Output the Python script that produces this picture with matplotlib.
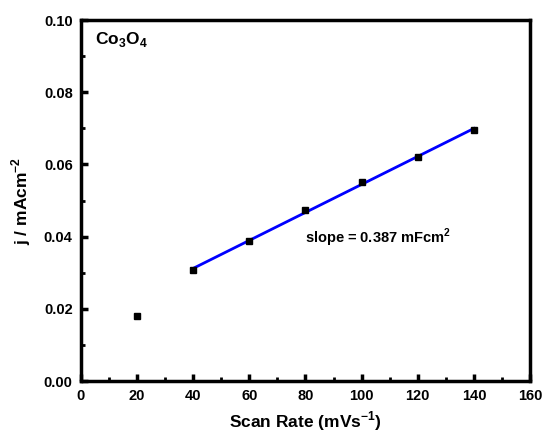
import matplotlib.pyplot as plt
import numpy as np

plt.rcParams["font.family"] = ["Liberation Sans", "DejaVu Sans"]
plt.rcParams["font.weight"] = "bold"
plt.rcParams["mathtext.fontset"] = "custom"
plt.rcParams["mathtext.rm"] = "Liberation Sans:bold"
plt.rcParams["mathtext.bf"] = "Liberation Sans:bold"

scan_rate = [20, 40, 60, 80, 100, 120, 140]
current = [0.0180, 0.0307, 0.0388, 0.0474, 0.0551, 0.0620, 0.0695]
fit_x = scan_rate[1:]
fit_y = current[1:]

fig = plt.figure(figsize=(5.45, 4.38), dpi=100)
ax = fig.add_axes([0.1486, 0.1301, 0.8239, 0.8242])

coef = np.polyfit(fit_x, fit_y, 1)
xs = np.array([fit_x[0], fit_x[-1]])
ax.plot(xs, np.polyval(coef, xs), color="#0000ff", lw=2, zorder=2)
ax.plot(scan_rate, current, "s", color="black", ms=5, zorder=3)

ax.set_xlim(0, 160)
ax.set_ylim(0, 0.10)
ax.set_xticks(np.arange(0, 161, 20))
ax.set_xticks(np.arange(10, 160, 20), minor=True)
ax.set_yticks(np.arange(0, 0.101, 0.02))
ax.set_yticks(np.arange(0.01, 0.1, 0.02), minor=True)
ax.yaxis.set_major_formatter(plt.FuncFormatter(lambda v, p: f"{v:.2f}"))

for s in ax.spines.values():
    s.set_linewidth(2.5)
ax.tick_params(which="major", direction="in", length=5, width=2.5, labelsize=10.5, pad=6)
ax.tick_params(which="minor", direction="in", length=3, width=2)
for lab in ax.get_xticklabels() + ax.get_yticklabels():
    lab.set_fontweight("bold")

ax.set_xlabel("Scan Rate (mVs$^{-1}$)", fontsize=12.5, fontweight="bold", labelpad=4)
ax.set_ylabel("j / mAcm$^{-2}$", fontsize=12.5, fontweight="bold", labelpad=8)

ax.text(5, 0.0945, "Co$_3$O$_4$", fontsize=12.5, fontweight="bold", va="center")
ax.text(80, 0.0396, "slope = 0.387 mFcm$^2$", fontsize=10.5, fontweight="bold", va="center")

fig.savefig("out.png", dpi=100)
